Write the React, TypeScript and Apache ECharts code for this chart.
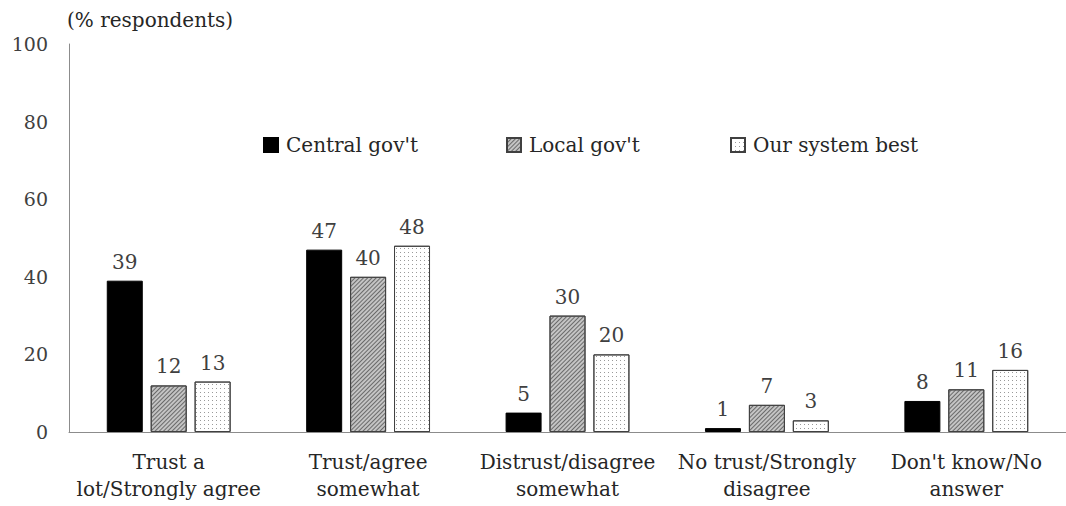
import React, { useEffect, useRef } from "react";
import * as echarts from "echarts";

const categories = [
  "Trust a\nlot/Strongly agree",
  "Trust/agree\nsomewhat",
  "Distrust/disagree\nsomewhat",
  "No trust/Strongly\ndisagree",
  "Don't know/No\nanswer",
];
const seriesNames = ["Central gov't", "Local gov't", "Our system best"];
const centralGov = [39, 47, 5, 1, 8];
const localGov = [12, 40, 30, 7, 11];
const systemBest = [13, 48, 20, 3, 16];
const yTicks = { min: 0, max: 100, interval: 20 };
const yAxisTitle = "(% respondents)";

const FONT = "DejaVu Serif";

export default function App() {
  const ref = useRef<HTMLDivElement>(null);
  useEffect(() => {
    document.body.style.margin = "0";
    if (!ref.current) return;
    const chart = echarts.init(ref.current, null, { renderer: "svg" });
    const labelCfg = {
      show: true,
      position: "top",
      distance: 9,
      fontFamily: FONT,
      fontSize: 20,
      color: "#404040",
    };
    const legendBase = {
      top: 135,
      padding: 0,
      itemWidth: 14,
      itemHeight: 14,
      icon: "rect",
      textStyle: { fontFamily: FONT, fontSize: 20, color: "#262626", padding: [0, 0, 0, 3] },
    };
    chart.setOption({
      animation: false,
      backgroundColor: "#ffffff",
      textStyle: { fontFamily: FONT },
      title: {
        text: yAxisTitle,
        left: 62,
        top: 5,
        textStyle: { fontFamily: FONT, fontSize: 20, fontWeight: "normal", color: "#262626" },
      },
      legend: [
        { ...legendBase, left: 263, data: [seriesNames[0]] },
        { ...legendBase, left: 506, data: [seriesNames[1]] },
        { ...legendBase, left: 730, data: [seriesNames[2]] },
      ],
      grid: { left: 69, right: -4, top: 44, bottom: 74 },
      xAxis: {
        type: "category",
        data: categories,
        axisTick: { show: false },
        axisLine: { lineStyle: { color: "#8c8c8c", width: 1 } },
        axisLabel: {
          interval: 0,
          margin: 16,
          fontFamily: FONT,
          fontSize: 20,
          lineHeight: 27,
          color: "#262626",
        },
      },
      yAxis: {
        type: "value",
        min: yTicks.min,
        max: yTicks.max,
        interval: yTicks.interval,
        splitLine: { show: false },
        axisTick: { show: false },
        axisLine: { show: true, lineStyle: { color: "#8c8c8c", width: 1 } },
        axisLabel: { margin: 21, fontFamily: FONT, fontSize: 19, color: "#404040" },
      },
      series: [
        {
          name: seriesNames[0],
          type: "bar",
          data: centralGov,
          barWidth: 36,
          barGap: "22%",
          itemStyle: { color: "#000000", borderColor: "#000000", borderWidth: 1 },
          label: labelCfg,
        },
        {
          name: seriesNames[1],
          type: "bar",
          data: localGov,
          barWidth: 36,
          barGap: "22%",
          itemStyle: {
            color: "#c4c4c4",
            borderColor: "#404040",
            borderWidth: 1,
            decal: {
              symbol: "rect",
              symbolSize: 1,
              dashArrayX: [1, 0],
              dashArrayY: [0.8, 1.6],
              rotation: -Math.PI / 4,
              color: "#6a6a6a",
            },
          },
          label: labelCfg,
        },
        {
          name: seriesNames[2],
          type: "bar",
          data: systemBest,
          barWidth: 36,
          barGap: "22%",
          itemStyle: {
            color: "#ffffff",
            borderColor: "#404040",
            borderWidth: 1,
            decal: {
              symbol: "rect",
              symbolSize: 1,
              dashArrayX: [1, 2.5],
              dashArrayY: [1, 2.5],
              rotation: 0,
              color: "#9a9a9a",
            },
          },
          label: labelCfg,
        },
      ],
    });
    return () => chart.dispose();
  }, []);
  return <div ref={ref} style={{ width: 1066, height: 506 }} />;
}
